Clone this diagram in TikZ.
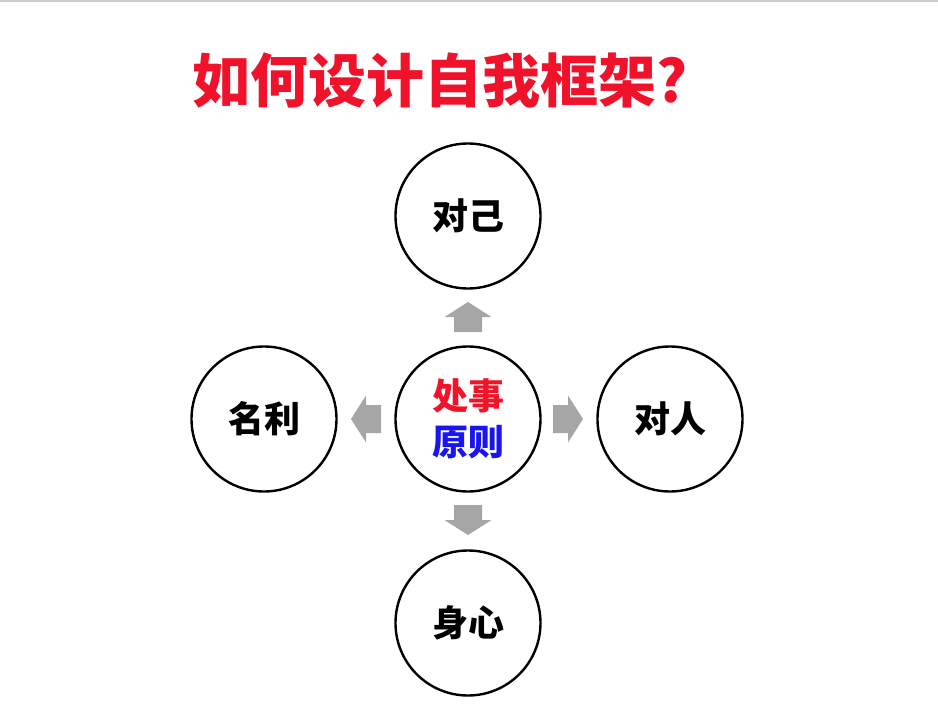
\documentclass[tikz,border=0pt]{standalone}
\usepackage{fontspec}
\newfontfamily\cjk{Noto Sans CJK SC}
\usepackage{tikz}
\usetikzlibrary{
  positioning
}
\definecolor{titlered}{RGB}{240,18,42}
\definecolor{rulered}{RGB}{240,20,40}
\definecolor{ruleblue}{RGB}{26,20,240}
\tikzset{topic/.style={
  circle,
  draw, line width=2.4pt,
  minimum size=145pt,
  inner sep=0pt,
  font=\cjk\bfseries\fontsize{36}{46}\selectfont
}}
\tikzset{blockarrow/.pic={
  \fill [gray!70] (-15,-14) -- (0,-14) -- (0,-23.5) -- (15,0)
    -- (0,23.5) -- (0,14) -- (-15,14) -- cycle;
}}

\begin{document}
\begin{tikzpicture}[x=1pt,y=-1pt]
          \useasboundingbox (0,0) rectangle (938,726);
          \draw [gray!40, line width=1.5pt] (0,1) -- (938,1);
          \node (title) [text=titlered, font=\cjk\bfseries\fontsize{58}{60}\selectfont] at (440,80) {如何设计自我框架?};
          \node [topic, align=center] (rule) at (468,419) {\textcolor{rulered}{处事}\\\textcolor{ruleblue}{原则}};
          \node [topic] (self) at (468,216) {对己};
          \node [topic] (fame) at (264,419) {名利};
          \node [topic] (others) at (670,419) {对人};
          \node [topic] (body) at (468,623) {身心};
          \pic [rotate=90] at (468,317) {blockarrow};
          \pic [rotate=180] at (366,419) {blockarrow};
          \pic at (568,419) {blockarrow};
          \pic [rotate=270] at (468,520) {blockarrow};
        \end{tikzpicture}
\end{document}
